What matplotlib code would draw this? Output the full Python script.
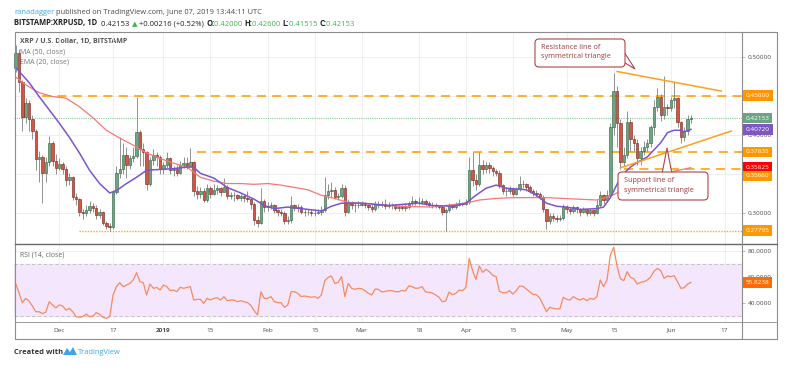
import numpy as np
import pandas as pd
import matplotlib
matplotlib.use("Agg")
import matplotlib.pyplot as plt
from matplotlib.patches import FancyBboxPatch, Polygon, Rectangle
from matplotlib.transforms import blended_transform_factory

plt.rcParams['font.family'] = ['Open Sans', 'DejaVu Sans']

# BITSTAMP XRP/USD daily candles, 2018-11-18 .. 2019-06-07 (open = prior close)
start_date = "2018-11-18"
first_open = 0.486
closes = [
    0.505, 0.467, 0.423, 0.441, 0.420, 0.405, 0.369, 0.372, 0.351, 0.365,
    0.390, 0.367, 0.358, 0.363, 0.356, 0.342, 0.346, 0.321, 0.318, 0.302,
    0.300, 0.304, 0.309, 0.307, 0.298, 0.302, 0.288, 0.284, 0.283, 0.327,
    0.351, 0.356, 0.374, 0.362, 0.370, 0.373, 0.404, 0.382, 0.378, 0.337,
    0.368, 0.374, 0.372, 0.356, 0.362, 0.370, 0.355, 0.357, 0.352, 0.362,
    0.364, 0.360, 0.366, 0.328, 0.325, 0.329, 0.317, 0.332, 0.325, 0.330,
    0.332, 0.327, 0.334, 0.322, 0.323, 0.323, 0.320, 0.322, 0.319, 0.318,
    0.312, 0.292, 0.288, 0.316, 0.308, 0.309, 0.311, 0.304, 0.302, 0.301,
    0.290, 0.292, 0.310, 0.307, 0.308, 0.302, 0.302, 0.302, 0.300, 0.301,
    0.302, 0.304, 0.323, 0.328, 0.330, 0.321, 0.322, 0.332, 0.302, 0.315,
    0.311, 0.310, 0.311, 0.312, 0.310, 0.308, 0.305, 0.312, 0.311, 0.312,
    0.309, 0.311, 0.310, 0.307, 0.308, 0.307, 0.308, 0.313, 0.316, 0.314,
    0.314, 0.316, 0.313, 0.311, 0.311, 0.310, 0.308, 0.302, 0.304, 0.310,
    0.308, 0.311, 0.313, 0.312, 0.315, 0.355, 0.343, 0.338, 0.362, 0.356,
    0.362, 0.358, 0.354, 0.352, 0.336, 0.329, 0.328, 0.331, 0.325, 0.331,
    0.338, 0.337, 0.333, 0.329, 0.326, 0.325, 0.321, 0.305, 0.290, 0.297,
    0.294, 0.293, 0.294, 0.308, 0.305, 0.303, 0.308, 0.305, 0.302, 0.305,
    0.300, 0.304, 0.301, 0.310, 0.323, 0.317, 0.324, 0.410, 0.456, 0.415,
    0.365, 0.375, 0.417, 0.395, 0.390, 0.370, 0.380, 0.385, 0.390, 0.410,
    0.436, 0.449, 0.425, 0.436, 0.434, 0.444, 0.447, 0.417, 0.397, 0.405,
    0.420, 0.42153,
]
highs = [
    0.515, 0.510, 0.470, 0.447, 0.445, 0.425, 0.408, 0.380, 0.375, 0.372,
    0.399, 0.392, 0.376, 0.370, 0.366, 0.360, 0.352, 0.348, 0.326, 0.320,
    0.306, 0.310, 0.316, 0.313, 0.310, 0.306, 0.303, 0.290, 0.288, 0.330,
    0.360, 0.397, 0.390, 0.385, 0.374, 0.385, 0.449, 0.406, 0.390, 0.380,
    0.372, 0.382, 0.378, 0.374, 0.366, 0.378, 0.372, 0.360, 0.362, 0.367,
    0.372, 0.372, 0.383, 0.367, 0.335, 0.333, 0.332, 0.338, 0.335, 0.337,
    0.336, 0.334, 0.345, 0.336, 0.327, 0.327, 0.325, 0.325, 0.324, 0.328,
    0.320, 0.314, 0.296, 0.332, 0.318, 0.315, 0.314, 0.312, 0.306, 0.305,
    0.303, 0.297, 0.322, 0.312, 0.312, 0.310, 0.306, 0.306, 0.305, 0.305,
    0.306, 0.309, 0.346, 0.337, 0.340, 0.333, 0.326, 0.338, 0.336, 0.318,
    0.316, 0.314, 0.316, 0.316, 0.314, 0.312, 0.312, 0.316, 0.316, 0.316,
    0.318, 0.314, 0.313, 0.312, 0.311, 0.310, 0.313, 0.316, 0.322, 0.318,
    0.321, 0.320, 0.318, 0.316, 0.315, 0.313, 0.311, 0.310, 0.307, 0.313,
    0.312, 0.315, 0.318, 0.315, 0.318, 0.372, 0.378, 0.350, 0.378, 0.368,
    0.366, 0.365, 0.360, 0.357, 0.355, 0.338, 0.333, 0.335, 0.333, 0.334,
    0.347, 0.342, 0.339, 0.336, 0.331, 0.330, 0.327, 0.323, 0.306, 0.300,
    0.300, 0.298, 0.298, 0.312, 0.310, 0.308, 0.311, 0.309, 0.307, 0.308,
    0.306, 0.306, 0.305, 0.318, 0.328, 0.325, 0.330, 0.415, 0.479, 0.462,
    0.420, 0.385, 0.430, 0.420, 0.400, 0.395, 0.385, 0.392, 0.395, 0.413,
    0.445, 0.460, 0.452, 0.475, 0.440, 0.448, 0.468, 0.449, 0.418, 0.410,
    0.426, 0.426,
]
lows = [
    0.480, 0.455, 0.405, 0.415, 0.405, 0.395, 0.355, 0.340, 0.313, 0.340,
    0.360, 0.360, 0.350, 0.355, 0.350, 0.335, 0.336, 0.317, 0.310, 0.297,
    0.293, 0.296, 0.300, 0.302, 0.293, 0.294, 0.285, 0.280, 0.278, 0.280,
    0.325, 0.345, 0.350, 0.345, 0.357, 0.365, 0.370, 0.360, 0.360, 0.330,
    0.335, 0.362, 0.360, 0.350, 0.350, 0.358, 0.350, 0.348, 0.348, 0.350,
    0.358, 0.357, 0.360, 0.322, 0.318, 0.320, 0.314, 0.315, 0.320, 0.323,
    0.325, 0.322, 0.327, 0.318, 0.318, 0.316, 0.317, 0.316, 0.315, 0.315,
    0.305, 0.285, 0.282, 0.287, 0.302, 0.303, 0.305, 0.300, 0.297, 0.296,
    0.286, 0.287, 0.288, 0.303, 0.302, 0.299, 0.297, 0.298, 0.297, 0.297,
    0.299, 0.298, 0.302, 0.318, 0.321, 0.318, 0.317, 0.319, 0.296, 0.300,
    0.306, 0.302, 0.307, 0.309, 0.307, 0.304, 0.302, 0.303, 0.307, 0.308,
    0.305, 0.307, 0.306, 0.304, 0.303, 0.304, 0.303, 0.306, 0.311, 0.311,
    0.310, 0.312, 0.310, 0.308, 0.307, 0.307, 0.305, 0.298, 0.278, 0.302,
    0.305, 0.306, 0.309, 0.309, 0.310, 0.312, 0.335, 0.330, 0.335, 0.350,
    0.352, 0.352, 0.348, 0.348, 0.332, 0.325, 0.322, 0.325, 0.322, 0.323,
    0.329, 0.332, 0.329, 0.326, 0.322, 0.321, 0.318, 0.302, 0.280, 0.286,
    0.290, 0.289, 0.290, 0.292, 0.300, 0.299, 0.301, 0.301, 0.297, 0.300,
    0.297, 0.298, 0.297, 0.299, 0.308, 0.312, 0.315, 0.320, 0.400, 0.385,
    0.357, 0.360, 0.370, 0.380, 0.380, 0.362, 0.362, 0.375, 0.380, 0.385,
    0.400, 0.430, 0.418, 0.420, 0.425, 0.430, 0.435, 0.410, 0.390, 0.392,
    0.400, 0.41515,
]
rsi = [
    55.1, 47.9, 40.3, 43.6, 41.5, 37.7, 33.3, 33.3, 31.8, 33.1,
    41.0, 38.5, 36.2, 38.5, 37.7, 34.6, 35.9, 33.3, 29.5, 29.0,
    29.5, 31.5, 29.5, 30.0, 32.6, 31.3, 29.0, 28.2, 29.5, 46.2,
    52.6, 55.6, 52.6, 53.8, 55.1, 57.7, 63.3, 56.4, 55.6, 46.2,
    54.6, 51.3, 52.0, 50.0, 53.8, 52.6, 49.5, 50.0, 48.7, 52.1,
    51.3, 52.0, 52.6, 42.3, 42.8, 42.8, 39.7, 43.6, 42.3, 43.6,
    44.1, 42.3, 44.9, 41.8, 42.3, 42.3, 41.0, 41.8, 41.0, 40.3,
    38.2, 34.1, 30.8, 48.7, 43.6, 43.6, 44.9, 41.0, 40.3, 40.3,
    36.7, 38.5, 48.7, 48.7, 47.4, 44.9, 45.4, 44.9, 44.4, 44.9,
    43.6, 46.2, 57.2, 59.7, 60.8, 55.1, 55.9, 60.3, 44.9, 55.1,
    51.3, 50.5, 51.3, 51.0, 49.5, 47.4, 46.2, 50.8, 50.5, 48.5,
    49.0, 49.5, 49.5, 48.7, 48.7, 49.7, 49.2, 53.1, 52.6, 51.3,
    51.5, 52.6, 48.5, 48.2, 47.7, 46.2, 44.4, 41.0, 41.5, 48.5,
    46.4, 47.4, 50.0, 49.5, 52.0, 74.4, 64.9, 58.2, 68.5, 63.6,
    65.9, 64.1, 61.3, 60.3, 49.0, 47.9, 47.9, 49.5, 46.9, 49.5,
    53.1, 52.8, 50.8, 48.7, 46.6, 46.4, 43.8, 38.7, 33.3, 36.7,
    35.9, 35.4, 35.6, 44.4, 42.8, 42.3, 44.9, 43.3, 42.3, 43.6,
    41.8, 43.6, 42.8, 44.9, 57.7, 52.6, 57.7, 76.9, 82.8, 68.5,
    58.7, 57.2, 64.1, 59.7, 58.7, 54.6, 55.9, 56.4, 57.7, 60.0,
    64.4, 66.6, 64.9, 59.0, 60.8, 60.3, 61.0, 56.4, 51.3, 51.8,
    54.6, 55.8238,
]

# moving averages: (day offset, value)
ema20_days = [0, 4, 7, 10, 13, 16, 19, 22, 25, 28, 30, 33, 36, 39, 43, 47, 51, 53,
              55, 59, 63, 67, 71, 74, 77, 81, 85, 89, 91, 94, 97, 103, 111, 120,
              124, 130, 134, 137, 140, 143, 146, 152, 155, 158, 161, 164, 168, 173,
              175, 177, 179, 181, 183, 185, 188, 190, 192, 194, 196, 198, 199, 201]
ema20_vals = [0.486, 0.467, 0.449, 0.432, 0.415, 0.397, 0.377, 0.355, 0.338, 0.326,
              0.329, 0.338, 0.346, 0.355, 0.356, 0.357, 0.359, 0.359, 0.351, 0.345,
              0.333, 0.326, 0.318, 0.310, 0.306, 0.308, 0.306, 0.304, 0.303, 0.309,
              0.313, 0.313, 0.310, 0.313, 0.310, 0.309, 0.313, 0.323, 0.332, 0.336,
              0.332, 0.330, 0.323, 0.313, 0.309, 0.308, 0.305, 0.306, 0.308, 0.320,
              0.337, 0.351, 0.359, 0.365, 0.372, 0.381, 0.390, 0.403, 0.406, 0.406,
              0.404, 0.4072]
ma50_days = [0, 3, 7, 11, 15, 19, 23, 27, 31, 35, 39, 43, 47, 51, 55, 59, 63, 67,
             71, 75, 79, 83, 87, 91, 95, 99, 103, 111, 114, 124, 134, 138, 143, 148,
             158, 163, 173, 177, 186, 193, 201]
ma50_vals = [0.474, 0.464, 0.454, 0.449, 0.447, 0.436, 0.422, 0.406, 0.396, 0.387,
             0.377, 0.370, 0.364, 0.359, 0.346, 0.341, 0.338, 0.338, 0.337, 0.338,
             0.336, 0.333, 0.330, 0.323, 0.319, 0.314, 0.313, 0.310, 0.309, 0.308,
             0.313, 0.317, 0.319, 0.320, 0.320, 0.319, 0.317, 0.322, 0.340, 0.351,
             0.35825]

# horizontal levels drawn by the author (value, first day, style)
level_vals = [0.45, 0.37835, 0.3566, 0.27795]
level_from = ["2018-11-26", "2019-01-11", "2019-05-18", "2018-12-07"]
level_style = ["dashed", "dashed", "dashed", "dotted"]

# symmetrical triangle lines (date, price)
resist_pts = [("2019-05-16", 0.481), ("2019-06-16", 0.456)]
support_pts = [("2019-05-17", 0.358), ("2019-06-19", 0.405)]

price_ticks = [0.30, 0.35, 0.40, 0.45, 0.50]
price_tick_labels = ["0.30000", "", "0.40000", "", "0.50000"]
rsi_ticks = [40, 60, 80]
rsi_tick_labels = ["40.0000", "60.0000", "80.0000"]

tick_dates = ["2018-12-01", "2018-12-17", "2019-01-01", "2019-01-15", "2019-02-01",
              "2019-02-15", "2019-03-01", "2019-03-18", "2019-04-01", "2019-04-15",
              "2019-05-01", "2019-05-15", "2019-06-01", "2019-06-17"]
tick_labels = ["Dec", "17", "2019", "15", "Feb", "15", "Mar", "18", "Apr", "15",
               "May", "15", "Jun", "17"]

t0 = pd.Timestamp(start_date)
def day(s):
    return (pd.Timestamp(s) - t0).days

n = len(closes)
x = np.arange(n)
c = np.array(closes)
o = np.array([first_open] + closes[:-1])
h = np.array(highs)
l = np.array(lows)
up = c >= o

W, H = 800, 373
fig = plt.figure(figsize=(W / 100, H / 100), dpi=100)

def rect(x0, y0, x1, y1):
    return [x0 / W, 1 - y1 / H, (x1 - x0) / W, (y1 - y0) / H]

ax = fig.add_axes(rect(14.5, 31.5, 741.7, 243.5))
ax2 = fig.add_axes(rect(14.5, 244, 741.7, 322), sharex=ax)
xlim = (-0.33, 216.1)

GREEN, RED = "#6ba583", "#d75442"
GRID = "#ececec"
TXT = "#4a4a4a"
ORANGE = "#ffa726"

# ---- price panel
ax.vlines(x, np.minimum(l, np.minimum(o, c)), np.maximum(h, np.maximum(o, c)),
          color="#808080", lw=0.6, zorder=3)
ax.bar(x[up], (c - o)[up], bottom=o[up], width=0.72, color=GREEN,
       edgecolor="#2d5e3e", lw=0.4, zorder=4)
ax.bar(x[~up], (c - o)[~up], bottom=o[~up], width=0.72, color=RED,
       edgecolor="#6e2016", lw=0.4, zorder=4)
ax.plot(ma50_days, ma50_vals, color="#f77872", lw=0.9, zorder=5)
ax.plot(ema20_days, ema20_vals, color="#7b55d1", lw=1.1, zorder=5)

for v, d0, st in zip(level_vals, level_from, level_style):
    if st == "dashed":
        ax.plot([day(d0), xlim[1]], [v, v], color=ORANGE, lw=1.3,
                dashes=(5, 3.5), zorder=2)
    else:
        ax.plot([day(d0), xlim[1]], [v, v], color=ORANGE, lw=1.0,
                dashes=(1, 1), zorder=2)
for pts in (resist_pts, support_pts):
    ax.plot([day(p[0]) for p in pts], [p[1] for p in pts], color="#ff9f1a",
            lw=1.1, zorder=6)
ax.axhline(closes[-1], color="#8cc9a0", lw=0.8, ls=(0, (1, 1)), zorder=2)

ax.set_xlim(*xlim)
ax.set_ylim(0.2615, 0.532)
ax.set_yticks(price_ticks)
ax.set_yticklabels(price_tick_labels)
ax.yaxis.tick_right()
ax.tick_params(axis="y", labelsize=4.6, labelcolor=TXT, color="#999999",
               length=2.5, width=0.5, pad=2)
ax.tick_params(axis="x", length=0, labelbottom=False)
tick_days = [day(d) for d in tick_dates]
ax.set_xticks(tick_days)
ax.grid(True, color=GRID, lw=0.6, zorder=0)
for sp in ax.spines.values():
    sp.set_visible(False)

trans = blended_transform_factory(ax.transAxes, ax.transData)
price_tags = [(0.45, "0.45000", "#ff9800", 0), (closes[-1], "0.42153", GREEN, 0),
              (ema20_vals[-1], "0.40720", "#7e57c2", 0), (0.37835, "0.37835", "#ff9800", 0),
              (ma50_vals[-1], "0.35825", "#ff0000", 0), (0.3566, "0.35660", "#ff9800", -7),
              (0.27795, "0.27795", "#ff9800", 0)]
for v, s, col, dy in price_tags:
    ax.annotate(s, xy=(1, v), xycoords=trans, xytext=(4, dy), textcoords="offset pixels",
                va="center", ha="left", fontsize=4.6, color="white", zorder=10,
                annotation_clip=False,
                bbox=dict(boxstyle="square,pad=0.45", fc=col, ec="none"))

ax.text(0.008, 0.955, "XRP / U.S. Dollar, 1D, BITSTAMP", transform=ax.transAxes,
        fontsize=5, fontweight="bold", color="#555555", va="center", zorder=1)
ax.text(0.008, 0.905, "MA (50, close)", transform=ax.transAxes, fontsize=5,
        color="#777777", va="center", zorder=1)
ax.text(0.008, 0.855, "EMA (20, close)", transform=ax.transAxes, fontsize=5,
        color="#777777", va="center", zorder=1)

# ---- RSI panel
ax2.fill_between(xlim, 30, 70, color="#f3e6fd", zorder=0)
ax2.axhline(70, color="#bdbdbd", lw=0.6, ls=(0, (4, 3)), zorder=1)
ax2.axhline(30, color="#bdbdbd", lw=0.6, ls=(0, (4, 3)), zorder=1)
ax2.plot(x, rsi, color="#f78b5d", lw=0.9, zorder=3)
ax2.set_ylim(25.4, 85.4)
ax2.set_yticks(rsi_ticks)
ax2.set_yticklabels(rsi_tick_labels)
ax2.yaxis.tick_right()
ax2.tick_params(axis="y", labelsize=4.6, labelcolor=TXT, color="#999999",
                length=2.5, width=0.5, pad=2)
ax2.set_xticks(tick_days)
ax2.set_xticklabels(tick_labels)
ax2.tick_params(axis="x", length=0, labelsize=4.6, labelcolor=TXT, pad=4)
for lab in ax2.get_xticklabels():
    if lab.get_text() == "2019":
        lab.set_fontweight("bold")
ax2.grid(True, color=GRID, lw=0.6, zorder=0)
for sp in ax2.spines.values():
    sp.set_visible(False)
trans2 = blended_transform_factory(ax2.transAxes, ax2.transData)
ax2.annotate("55.8238", xy=(1, rsi[-1]), xycoords=trans2, xytext=(4, 0),
             textcoords="offset pixels", va="center", ha="left", fontsize=4.6,
             color="white", zorder=10, annotation_clip=False,
             bbox=dict(boxstyle="square,pad=0.45", fc="#ff6d00", ec="none"))
ax2.text(0.008, 0.86, "RSI (14, close)", transform=ax2.transAxes, fontsize=5,
         color="#666666", va="center")

# ---- overlay in pixel coordinates: frame, header, callouts, footer
ov = fig.add_axes([0, 0, 1, 1])
ov.set_xlim(0, W)
ov.set_ylim(H, 0)
ov.axis("off")
ov.patch.set_visible(False)

ov.add_patch(Rectangle((14.5, 31.5), 777 - 14.5, 339 - 31.5, fill=False,
                       ec="#8c8c8c", lw=0.8))
ov.plot([14.5, 777], [243.7, 243.7], color="#6a6a6a", lw=1.0)
ov.plot([14.5, 777], [322, 322], color="#9a9a9a", lw=0.7)
ov.plot([741.7, 741.7], [31.5, 339], color="#8c8c8c", lw=0.8)

def chain(prev, s, **kw):
    return ov.annotate(s, xy=(1, 0), xycoords=prev, va="bottom", ha="left",
                       fontsize=kw.pop("fontsize", 5.5), **kw)

t = ov.text(14, 15.5, "ranadagger", fontsize=5.4, color="#3ea6e6", va="bottom")
chain(t, " published on TradingView.com, June 07, 2019 13:44:11 UTC", color=TXT,
      fontsize=5.4)

hdr_green = "#3fb44f"
t = ov.text(14, 27.5, "BITSTAMP:XRPUSD, 1D", fontsize=5.5, fontweight="bold",
            color="#222222", va="bottom")
t = chain(t, "  0.42153 ", color="#222222")
t = chain(t, "▲", color=hdr_green, family=["DejaVu Sans"], fontsize=5.2)
t = chain(t, " +0.00216 (+0.52%) ", color="#222222")
for key, val in [("O:", "0.42000"), ("H:", "0.42600"), ("L:", "0.41515"), ("C:", "0.42153")]:
    t = chain(t, key, color="#222222", fontweight="bold")
    t = chain(t, val + " ", color=hdr_green)

EDGE = "#b04545"
ov.add_patch(Polygon([(617, 58), (635, 69), (624, 52)], closed=True, fc="white",
                     ec=EDGE, lw=0.8, zorder=4))
ov.add_patch(FancyBboxPatch((535, 39), 90, 28, boxstyle="round,pad=0,rounding_size=4",
                            fc="white", ec=EDGE, lw=0.8, zorder=5))
ov.text(541, 47.5, "Resistance line of", fontsize=5.2, color="#a33a3a", va="center", zorder=6)
ov.text(541, 56.5, "symmetrical triangle", fontsize=5.2, color="#a33a3a", va="center", zorder=6)

ov.add_patch(Polygon([(662, 174), (667, 148), (672, 174)], closed=True, fc="white",
                     ec=EDGE, lw=0.8, zorder=4))
ov.add_patch(FancyBboxPatch((618, 172), 90, 28, boxstyle="round,pad=0,rounding_size=4",
                            fc="white", ec=EDGE, lw=0.8, zorder=5))
ov.text(624, 181, "Support line of", fontsize=5.2, color="#a33a3a", va="center", zorder=6)
ov.text(624, 190, "symmetrical triangle", fontsize=5.2, color="#a33a3a", va="center", zorder=6)

t = ov.text(14, 356, "Created with", fontsize=5.4, fontweight="bold", color="#333333",
            va="bottom")
ov.add_patch(Polygon([(63, 355), (67, 348), (70, 352), (73, 347), (77, 355)],
                     closed=True, fc="#3ea6e6", ec="none"))
ov.text(77.5, 356, "TradingView", fontsize=5.4, color="#3ea6e6", va="bottom")

fig.savefig("out.png", dpi=100)
